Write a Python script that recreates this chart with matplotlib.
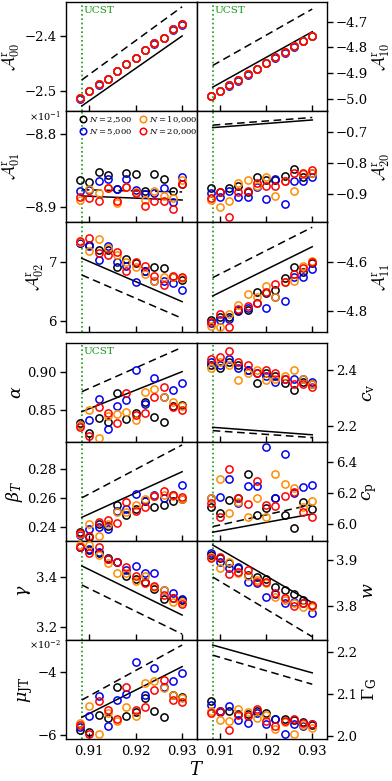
import matplotlib
matplotlib.use("Agg")
import matplotlib.pyplot as plt
import matplotlib.ticker as mticker

plt.rcParams['font.family'] = ['DejaVu Serif']
plt.rcParams['mathtext.fontset'] = 'dejavuserif'

W, H = 392, 781
T = [0.908, 0.910, 0.912, 0.914, 0.916, 0.918, 0.920, 0.922, 0.924, 0.926, 0.928, 0.930]
T_line = [0.9084, 0.930]
T_ucst = 0.9084
labels_N = ["$N = 2{,}500$", "$N = 5{,}000$", "$N = 10{,}000$", "$N = 20{,}000$"]
colors = ["black", "#0000ee", "#ff8c00", "#ff0000"]

# --- top group ---
A00_red = [-2.5138, -2.5000, -2.4884, -2.4782, -2.4636, -2.4515, -2.4400, -2.4260, -2.4138, -2.4036, -2.3884, -2.3793]
A00_blue = [-2.5145, -2.5008, -2.4893, -2.4790, -2.4644, -2.4522, -2.4408, -2.4268, -2.4145, -2.4045, -2.3892, -2.3800]
A00 = [A00_red, A00_blue, A00_red, A00_red]
A00_solid = [-2.5278, -2.4005]
A00_dash = [-2.4805, -2.3473]

A10_red = [-4.988, -4.967, -4.947, -4.926, -4.903, -4.883, -4.859, -4.838, -4.818, -4.795, -4.774, -4.755]
A10_blue = [-4.990, -4.969, -4.949, -4.929, -4.905, -4.885, -4.861, -4.840, -4.820, -4.797, -4.776, -4.757]
A10 = [A10_red, A10_blue, A10_red, A10_red]
A10_solid = [-4.954, -4.739]
A10_dash = [-4.870, -4.651]

A01 = [
    [-8.8632, -8.8650, -8.8523, -8.8564, -8.8745, -8.8532, -8.8550, -8.8777, -8.8550, -8.8609, -8.8777, -8.8680],
    [-8.8780, -8.8760, -8.8640, -8.8610, -8.8745, -8.8620, -8.8760, -8.8820, -8.8810, -8.8736, -8.8927, -8.8580],
    [-8.8900, -8.8755, -8.8800, -8.8740, -8.8936, -8.8720, -8.8786, -8.8900, -8.8773, -8.8845, -8.8868, -8.8627],
    [-8.8864, -8.8868, -8.8914, -8.8732, -8.8909, -8.8718, -8.8800, -8.8977, -8.8909, -8.8909, -8.9027, -8.8682],
]
A01_solid = [-8.8845, -8.8900]
A01_dash = [-8.8760, -8.8790]

A20 = [
    [-0.8818, -0.8925, -0.8797, -0.8750, -0.8925, -0.8444, -0.8551, -0.8551, -0.8422, -0.8209, -0.8444, -0.8337],
    [-0.8957, -0.9086, -0.8893, -0.9086, -0.9107, -0.8765, -0.9150, -0.8529, -0.9321, -0.8583, -0.8583, -0.8444],
    [-0.9193, -0.9406, -0.9214, -0.8658, -0.8551, -0.8743, -0.8465, -0.9064, -0.8580, -0.8893, -0.8369, -0.8316],
    [-0.9118, -0.8925, -0.9727, -0.8925, -0.8904, -0.8658, -0.8743, -0.8743, -0.8583, -0.8316, -0.8316, -0.8230],
]
A20_solid = [-0.687, -0.6625]
A20_dash = [-0.679, -0.6545]

A02 = [
    [7.337, 7.297, 7.211, 7.211, 6.914, 7.051, 6.983, 6.857, 6.914, 6.897, 6.754, 6.697],
    [7.326, 7.280, 7.040, 7.280, 7.011, 6.937, 6.657, 6.857, 6.686, 6.686, 6.651, 6.526],
    [7.354, 7.200, 7.400, 7.240, 7.126, 7.011, 6.926, 6.800, 6.686, 6.743, 6.754, 6.726],
    [7.366, 7.411, 7.166, 7.126, 7.183, 6.857, 7.011, 6.937, 6.766, 6.611, 6.766, 6.743],
]
A02_solid = [7.069, 6.326]
A02_dash = [6.783, 6.040]

A11 = [
    [-4.837, -4.826, -4.823, -4.800, -4.796, -4.720, -4.727, -4.714, -4.666, -4.618, -4.638, -4.604],
    [-4.851, -4.837, -4.834, -4.796, -4.789, -4.768, -4.789, -4.741, -4.759, -4.659, -4.662, -4.627],
    [-4.862, -4.864, -4.812, -4.775, -4.730, -4.744, -4.697, -4.744, -4.682, -4.675, -4.614, -4.593],
    [-4.844, -4.812, -4.867, -4.793, -4.779, -4.766, -4.720, -4.689, -4.682, -4.649, -4.625, -4.600],
]
A11_solid = [-4.738, -4.536]
A11_dash = [-4.663, -4.456]

# --- bottom group ---
alpha = [
    [0.8323, 0.8190, 0.8398, 0.8336, 0.8730, 0.8380, 0.8456, 0.8610, 0.8412, 0.8345, 0.8558, 0.8566],
    [0.8300, 0.8367, 0.8642, 0.8243, 0.8558, 0.8633, 0.9030, 0.8580, 0.8920, 0.8677, 0.8766, 0.8863],
    [0.8300, 0.8500, 0.8133, 0.8420, 0.8450, 0.8478, 0.8367, 0.8743, 0.8779, 0.8668, 0.8600, 0.8550],
    [0.8279, 0.8160, 0.8535, 0.8456, 0.8332, 0.8730, 0.8434, 0.8465, 0.8677, 0.8810, 0.8535, 0.8500],
]
alpha_solid = [0.8478, 0.9009]
alpha_dash = [0.8743, 0.9332]

cv = [
    [2.42, 2.41, 2.43, 2.42, 2.40, 2.354, 2.39, 2.38, 2.354, 2.33, 2.36, 2.35],
    [2.43, 2.42, 2.44, 2.41, 2.40, 2.39, 2.38, 2.36, 2.37, 2.37, 2.37, 2.36],
    [2.41, 2.43, 2.42, 2.366, 2.39, 2.40, 2.366, 2.37, 2.38, 2.40, 2.37, 2.35],
    [2.44, 2.45, 2.47, 2.43, 2.42, 2.39, 2.40, 2.39, 2.37, 2.35, 2.35, 2.34],
]
cv_solid = [2.195, 2.168]
cv_dash = [2.183, 2.158]

beta = [
    [0.2361, 0.2330, 0.2419, 0.2405, 0.2551, 0.2484, 0.2520, 0.2578, 0.2538, 0.2547, 0.2580, 0.2590],
    [0.2340, 0.2383, 0.2400, 0.2383, 0.2508, 0.2520, 0.2627, 0.2580, 0.2620, 0.2600, 0.2620, 0.2687],
    [0.2350, 0.2419, 0.2334, 0.2420, 0.2503, 0.2503, 0.2550, 0.2595, 0.2610, 0.2620, 0.2610, 0.2590],
    [0.2355, 0.2337, 0.2434, 0.2448, 0.2428, 0.2572, 0.2508, 0.2538, 0.2613, 0.2645, 0.2620, 0.2607],
]
beta_solid = [0.2465, 0.2781]
beta_dash = [0.2600, 0.2967]

cp = [
    [6.110, 6.070, 6.155, 6.170, 6.320, 6.058, 6.101, 6.170, 6.058, 5.976, 6.140, 6.096],
    [6.170, 6.176, 6.288, 6.134, 6.245, 6.245, 6.499, 6.170, 6.452, 6.200, 6.240, 6.252],
    [6.170, 6.288, 6.069, 6.144, 6.043, 6.170, 6.047, 6.323, 6.256, 6.230, 6.111, 6.150],
    [6.133, 6.043, 6.353, 6.170, 6.130, 6.279, 6.122, 6.118, 6.180, 6.208, 6.080, 6.047],
]
cp_solid = [5.9468, 6.0645]
cp_dash = [5.983, 6.125]

gamma = [
    [3.524, 3.510, 3.497, 3.477, 3.463, 3.406, 3.393, 3.380, 3.351, 3.312, 3.315, 3.308],
    [3.524, 3.514, 3.504, 3.473, 3.463, 3.430, 3.447, 3.419, 3.416, 3.348, 3.335, 3.311],
    [3.531, 3.531, 3.490, 3.459, 3.419, 3.419, 3.386, 3.406, 3.359, 3.348, 3.301, 3.299],
    [3.522, 3.497, 3.522, 3.473, 3.463, 3.441, 3.405, 3.376, 3.365, 3.328, 3.315, 3.290],
]
gamma_solid = [3.446, 3.247]
gamma_dash = [3.369, 3.170]

w = [
    [3.910, 3.9036, 3.893, 3.8819, 3.867, 3.8638, 3.8587, 3.842, 3.8348, 3.8254, 3.813, 3.800],
    [3.9159, 3.8964, 3.8819, 3.8855, 3.8514, 3.850, 3.8188, 3.825, 3.8072, 3.8094, 3.806, 3.7841],
    [3.907, 3.8833, 3.8964, 3.871, 3.8652, 3.8565, 3.850, 3.8203, 3.813, 3.806, 3.7986, 3.7971],
    [3.9036, 3.9072, 3.8696, 3.8746, 3.8783, 3.8514, 3.8529, 3.8275, 3.8167, 3.800, 3.8072, 3.8022],
]
w_solid = [3.9326, 3.8072]
w_dash = [3.863, 3.733]

muJT = [
    [-5.84, -5.89, -5.36, -5.47, -4.48, -5.38, -5.26, -4.81, -5.22, -5.44, -4.72, -4.78],
    [-5.75, -5.41, -4.76, -5.70, -4.88, -4.69, -3.66, -4.74, -3.87, -4.48, -4.28, -4.03],
    [-5.63, -5.07, -5.97, -5.31, -5.55, -5.10, -5.38, -4.35, -4.28, -4.51, -4.74, -4.83],
    [-5.68, -5.97, -4.91, -5.20, -5.49, -4.46, -5.20, -5.12, -4.56, -4.24, -4.88, -4.96],
]
muJT_solid = [-5.436, -3.82]
muJT_dash = [-4.885, -3.13]

GG = [
    [2.0826, 2.0588, 2.060, 2.053, 2.053, 2.060, 2.0548, 2.0414, 2.0414, 2.039, 2.0333, 2.0255],
    [2.0731, 2.0571, 2.0707, 2.039, 2.031, 2.0548, 2.0279, 2.0414, 2.004, 2.0279, 2.0238, 2.0294],
    [2.060, 2.039, 2.0357, 2.0652, 2.0571, 2.0438, 2.0493, 2.016, 2.0333, 2.004, 2.0255, 2.019],
    [2.0548, 2.0588, 2.0136, 2.0509, 2.0469, 2.0636, 2.0357, 2.0238, 2.0357, 2.0414, 2.031, 2.0294],
]
GG_solid = [2.216, 2.150]
GG_dash = [2.192, 2.123]

fig = plt.figure(figsize=(W / 100, H / 100), dpi=100)


def px_axes(l, t, r, b):
    return fig.add_axes([l / W, 1 - b / H, (r - l) / W, (b - t) / H])


XL, XM, XR = 66, 197, 327
rows = [(2, 111), (111, 222), (222, 332), (343, 442), (442, 541), (541, 640), (640, 739)]

panels = [
    # (row, col, data, solid, dash, ylim, yticks, fmt, ylabel, ucst)
    (0, 0, A00, A00_solid, A00_dash, (-2.537, -2.3387), [-2.5, -2.4], "{:.1f}", r"$\mathcal{A}^{\rm r}_{00}$", True),
    (0, 1, A10, A10_solid, A10_dash, (-5.0465, -4.6236), [-5.0, -4.9, -4.8, -4.7], "{:.1f}", r"$\mathcal{A}^{\rm r}_{10}$", True),
    (1, 0, A01, A01_solid, A01_dash, (-8.920, -8.7686), [-8.9, -8.8], "{:.1f}", r"$\mathcal{A}^{\rm r}_{01}$", False),
    (1, 1, A20, A20_solid, A20_dash, (-0.9897, -0.6337), [-0.9, -0.8, -0.7], "{:.1f}", r"$\mathcal{A}^{\rm r}_{20}$", False),
    (2, 0, A02, A02_solid, A02_dash, (5.806, 7.691), [6, 7], "{:.0f}", r"$\mathcal{A}^{\rm r}_{02}$", False),
    (2, 1, A11, A11_solid, A11_dash, (-4.886, -4.4345), [-4.8, -4.6], "{:.1f}", r"$\mathcal{A}^{\rm r}_{11}$", False),
    (3, 0, alpha, alpha_solid, alpha_dash, (0.8076, 0.9389), [0.85, 0.90], "{:.2f}", r"$\alpha$", True),
    (3, 1, cv, cv_solid, cv_dash, (2.142, 2.499), [2.2, 2.4], "{:.1f}", r"$c_{\rm v}$", False),
    (4, 0, beta, beta_solid, beta_dash, (0.2301, 0.2987), [0.24, 0.26, 0.28], "{:.2f}", r"$\beta_T$", False),
    (4, 1, cp, cp_solid, cp_dash, (5.89, 6.529), [6.0, 6.2, 6.4], "{:.1f}", r"$c_{\rm p}$", False),
    (5, 0, gamma, gamma_solid, gamma_dash, (3.146, 3.547), [3.2, 3.4], "{:.1f}", r"$\gamma$", False),
    (5, 1, w, w_solid, w_dash, (3.726, 3.9413), [3.8, 3.9], "{:.1f}", r"$w$", False),
    (6, 0, muJT, muJT_solid, muJT_dash, (-6.128, -2.97), [-6, -4], "{:.0f}", r"$\mu_{\rm JT}$", False),
    (6, 1, GG, GG_solid, GG_dash, (1.993, 2.228), [2.0, 2.1, 2.2], "{:.1f}", r"$\Gamma_{\rm G}$", False),
]


def make_fmt(f):
    return mticker.FuncFormatter(lambda v, p: f.format(v).replace("-", "\u2212"))


axes = {}
for (r, c, data, sol, das, ylim, yt, fmt, ylab, ucst) in panels:
    t, b = rows[r]
    l, rr = (XL, XM) if c == 0 else (XM, XR)
    ax = px_axes(l, t, rr, b)
    axes[(r, c)] = ax
    ax.axvline(T_ucst, color="#1a9a1a", ls=(0, (1, 1.6)), lw=1.2, zorder=1)
    ax.plot(T_line, sol, color="black", lw=1.1, zorder=2)
    ax.plot(T_line, das, color="black", lw=1.1, ls=(0, (5, 3)), zorder=2)
    for k in range(4):
        ax.plot(T, data[k], ls="none", marker="o", ms=5.2, mfc="none", mec=colors[k],
                mew=1.1, label=labels_N[k], zorder=3 + k)
    ax.set_xlim(0.905, 0.9332)
    ax.set_ylim(*ylim)
    ax.set_xticks([0.91, 0.92, 0.93])
    ax.set_yticks(yt)
    ax.yaxis.set_major_formatter(make_fmt(fmt))
    ax.tick_params(axis="x", direction="in", length=4, width=1, top=False, labelsize=9.5, pad=4)
    ax.tick_params(axis="y", direction="out", length=4, width=1, labelsize=9.5, pad=2.5)
    if r != 6:
        ax.set_xticklabels([])
    mff = "cm" if "mathcal" in ylab else "dejavuserif"
    if c == 1:
        ax.yaxis.tick_right()
        ax.yaxis.set_label_position("right")
        ax.set_ylabel(ylab, fontsize=12.5, rotation=90, labelpad=2, math_fontfamily=mff)
    else:
        ax.set_ylabel(ylab, fontsize=12.5, labelpad=2, math_fontfamily=mff)
    for s in ax.spines.values():
        s.set_linewidth(1.0)
    if ucst:
        ax.text(T_ucst + 0.0003, ylim[1] - (ylim[1] - ylim[0]) * 0.04, "UCST", color="#1a9a1a",
                fontsize=7.5, va="top", ha="left")

# offset texts
fig.text(29 / W, 1 - 117 / H, r"$\times 10^{-1}$", fontsize=7, va="center", ha="left")
fig.text(29 / W, 1 - 645 / H, r"$\times 10^{-2}$", fontsize=7, va="center", ha="left")

# legend
leg = axes[(1, 0)].legend(loc="upper center", bbox_to_anchor=(0.55, 1.04), ncol=2, fontsize=6,
                          frameon=False, handletextpad=0.2, columnspacing=0.8, labelspacing=0.3,
                          handlelength=1.0, markerscale=0.9)

axes[(6, 0)].set_xlabel("$T$", fontsize=13)
axes[(6, 0)].xaxis.set_label_coords(1.0, -0.225)

fig.savefig("out.png", dpi=100)
